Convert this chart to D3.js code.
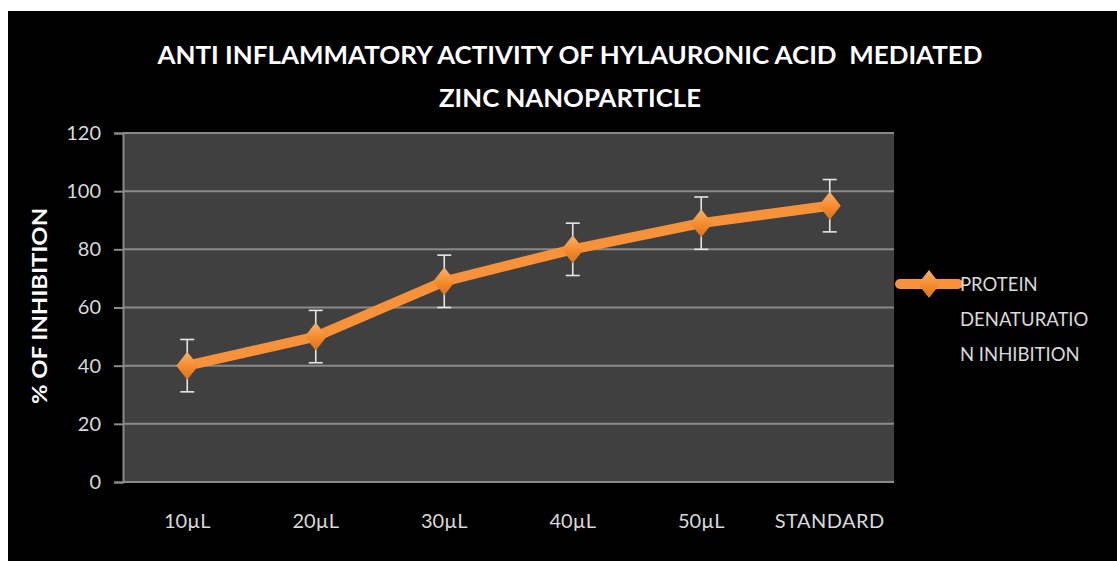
<!DOCTYPE html>
<html>
<head>
<meta charset="utf-8">
<script src="https://cdn.jsdelivr.net/npm/d3@7"></script>
<style>
  body { margin: 0; background: #fff; }
  text { font-family: Lato, "Open Sans", sans-serif; }
</style>
</head>
<body>
<script>
// chart data
const categories = ['10µL', '20µL', '30µL', '40µL', '50µL', 'STANDARD']
const inhibition = [40, 50, 69, 80, 89, 95]
const errors = [9, 9, 9, 9, 9, 9]
const yTicks = [0, 20, 40, 60, 80, 100, 120]
const titleLines = ['ANTI INFLAMMATORY ACTIVITY OF HYLAURONIC ACID  MEDIATED', 'ZINC NANOPARTICLE']
const legendLines = ['PROTEIN', 'DENATURATIO', 'N INHIBITION']

const width = 1117
const height = 561
const plot = {left: 123, top: 133, right: 894, bottom: 482}
const orange = '#f7923a'

const svg = d3.select('body').append('svg')
    .attr('width', width)
    .attr('height', height)

// black chart frame
svg.append('rect')
    .attr('x', 8).attr('y', 11)
    .attr('width', width - 8).attr('height', height - 11)
    .attr('fill', '#000')

const defs = svg.append('defs')
const grad = defs.append('linearGradient')
    .attr('id', 'diamond')
    .attr('x1', 0).attr('y1', 0).attr('x2', 0).attr('y2', 1)
grad.append('stop').attr('offset', '0%').attr('stop-color', '#fbb168')
grad.append('stop').attr('offset', '55%').attr('stop-color', '#f48a2c')
grad.append('stop').attr('offset', '100%').attr('stop-color', '#d9731c')

const x = d3.scaleBand().domain(categories).range([plot.left, plot.right])
const y = d3.scaleLinear().domain([0, 120]).range([plot.bottom, plot.top])

svg.append('rect')
    .attr('x', plot.left).attr('y', plot.top)
    .attr('width', plot.right - plot.left).attr('height', plot.bottom - plot.top)
    .attr('fill', '#404040')

// gridlines + y axis
const yAxis = svg.append('g')
    .attr('transform', `translate(${plot.left},0)`)
    .call(d3.axisLeft(y).tickValues(yTicks).tickSize(9).tickPadding(13))
yAxis.select('.domain').attr('stroke', '#8a8a8a').attr('stroke-width', 2)
yAxis.selectAll('.tick line').attr('stroke', '#8a8a8a').attr('stroke-width', 2)
yAxis.selectAll('.tick text')
    .attr('fill', '#d9d9d9')
    .style('font-size', '20px')

svg.append('g')
  .selectAll('line')
  .data(yTicks)
  .join('line')
    .attr('x1', plot.left).attr('x2', plot.right)
    .attr('y1', (d) => y(d)).attr('y2', (d) => y(d))
    .attr('stroke', '#8a8a8a')
    .attr('stroke-width', 2)

// x labels
svg.append('g')
  .selectAll('text')
  .data(categories)
  .join('text')
    .attr('x', (d) => x(d) + x.bandwidth() / 2)
    .attr('y', 528)
    .attr('text-anchor', 'middle')
    .attr('fill', '#d9d9d9')
    .style('font-size', '20px')
    .style('letter-spacing', (d) => d === 'STANDARD' ? '0.5px' : null)
    .text((d) => d)

const points = categories.map((c, i) => ({cat: c, v: inhibition[i], e: errors[i]}))
const cx = (d) => x(d.cat) + x.bandwidth() / 2

const line = d3.line()
  .x(cx)
  .y((d) => y(d.v))

svg.append('path')
    .datum(points)
    .attr('d', line)
    .attr('fill', 'none')
    .attr('stroke', orange)
    .attr('stroke-width', 10)
    .attr('stroke-linejoin', 'round')

// error bars
const eb = svg.append('g')
  .selectAll('g')
  .data(points)
  .join('g')
    .attr('stroke', '#e6e6e6')
    .attr('stroke-width', 1.6)
eb.append('line')
    .attr('x1', cx).attr('x2', cx)
    .attr('y1', (d) => y(d.v + d.e)).attr('y2', (d) => y(d.v - d.e))
eb.append('line')
    .attr('x1', (d) => cx(d) - 7).attr('x2', (d) => cx(d) + 7)
    .attr('y1', (d) => y(d.v + d.e)).attr('y2', (d) => y(d.v + d.e))
eb.append('line')
    .attr('x1', (d) => cx(d) - 7).attr('x2', (d) => cx(d) + 7)
    .attr('y1', (d) => y(d.v - d.e)).attr('y2', (d) => y(d.v - d.e))

const diamond = 'M0,-14L11,0L0,14L-11,0Z'
svg.append('g')
  .selectAll('path')
  .data(points)
  .join('path')
    .attr('d', diamond)
    .attr('transform', (d) => `translate(${cx(d)},${y(d.v)})`)
    .attr('fill', 'url(#diamond)')

// title
svg.append('g')
  .selectAll('text')
  .data(titleLines)
  .join('text')
    .attr('x', 570)
    .attr('y', (d, i) => 64 + i * 43)
    .attr('text-anchor', 'middle')
    .attr('fill', '#fff')
    .style('font-size', '25px')
    .style('font-weight', 'bold')
    .style('white-space', 'pre')
    .attr('textLength', (d, i) => i === 0 ? 825 : 262)
    .attr('lengthAdjust', 'spacingAndGlyphs')
    .text((d) => d)

svg.append('text')
    .attr('transform', 'translate(47,306) rotate(-90)')
    .attr('text-anchor', 'middle')
    .attr('fill', '#fff')
    .style('font-size', '20px')
    .style('font-weight', 'bold')
    .attr('textLength', 196)
    .attr('lengthAdjust', 'spacingAndGlyphs')
    .text('% OF INHIBITION')

// legend
const legend = svg.append('g').attr('transform', 'translate(900,284)')
legend.append('line')
    .attr('x1', 0).attr('x2', 58)
    .attr('stroke', orange)
    .attr('stroke-width', 10)
    .attr('stroke-linecap', 'round')
legend.append('path')
    .attr('d', diamond)
    .attr('transform', 'translate(29,0)')
    .attr('fill', 'url(#diamond)')
legend.selectAll('text')
  .data(legendLines)
  .join('text')
    .attr('x', 60)
    .attr('y', (d, i) => 7 + i * 35)
    .attr('fill', '#d9d9d9')
    .style('font-size', '18.5px')
    .text((d) => d)
</script>
</body>
</html>
